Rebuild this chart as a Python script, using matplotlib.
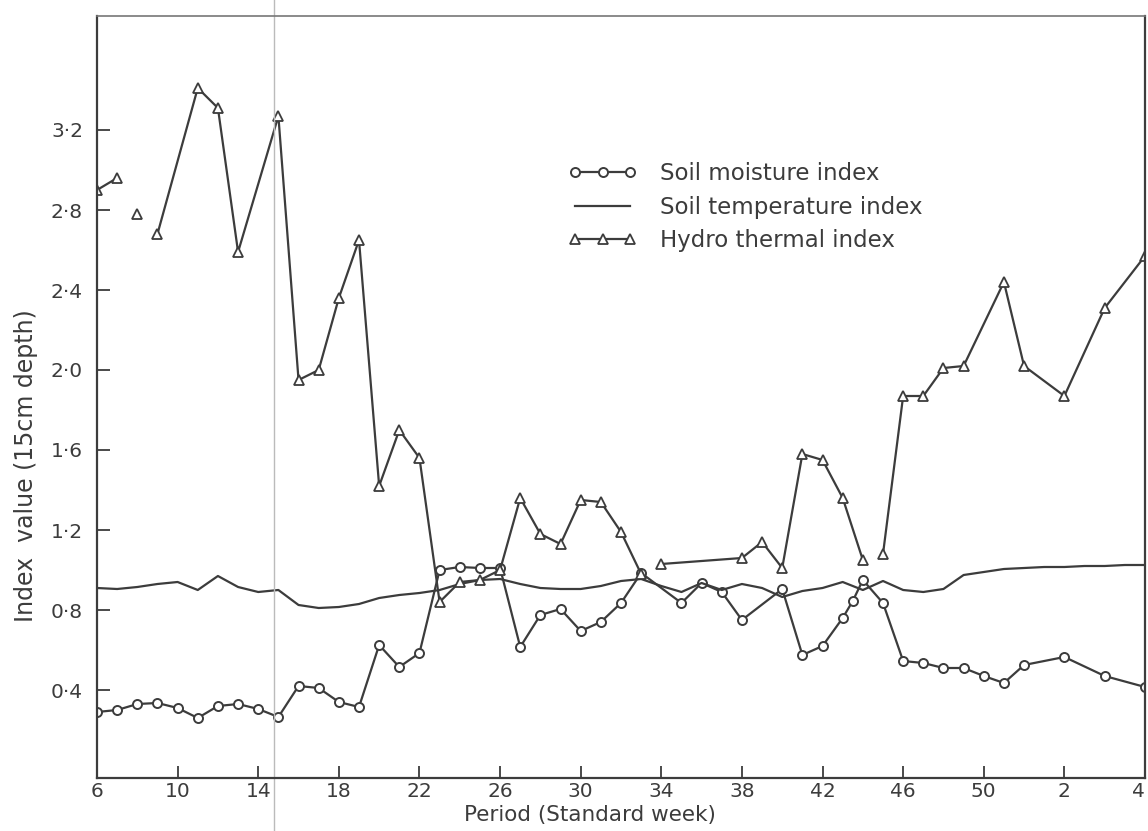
import numpy as np
import matplotlib
matplotlib.use("Agg")
import matplotlib.pyplot as plt

nan = np.nan

# standard weeks, continued past 52 (54 -> week 2, 58 -> week 4)
tick_weeks = [6, 10, 14, 18, 22, 26, 30, 34, 38, 42, 46, 50, 54, 58]
tick_labels = ['6', '10', '14', '18', '22', '26', '30', '34', '38', '42', '46', '50', '2', '4']
ytick_vals = [0.4, 0.8, 1.2, 1.6, 2.0, 2.4, 2.8, 3.2]
ytick_labels = ['0·4', '0·8', '1·2', '1·6', '2·0', '2·4', '2·8', '3·2']

# soil moisture index
moist_weeks = [6, 7, 8, 9, 10, 11, 12, 13, 14, 15, 16, 17, 18, 19, 20, 21, 22, 23, 24, 25, 26,
               27, 28, 29, 30, 31, 32, 33, 35, 36, 37, 38, 40, 41, 42, 43, 43.5, 44, 45, 46,
               47, 48, 49, 50, 51, 52, 54, 56, 58]
moist_vals = [0.29, 0.30, 0.33, 0.335, 0.31, 0.26, 0.32, 0.33, 0.305, 0.265, 0.42, 0.41, 0.34,
              0.315, 0.625, 0.515, 0.585, 1.00, 1.015, 1.01, 1.01, 0.615, 0.775, 0.805, 0.695,
              0.74, 0.835, 0.985, 0.835, 0.935, 0.89, 0.75, 0.905, 0.575, 0.62, 0.76, 0.845,
              0.95, 0.835, 0.545, 0.535, 0.51, 0.51, 0.47, 0.435, 0.525, 0.565, 0.47, 0.415]

# soil temperature index
temp_weeks = list(range(6, 59))
temp_vals = [0.91, 0.905, 0.915, 0.93, 0.94, 0.90, 0.97, 0.915, 0.89, 0.90, 0.825, 0.81, 0.815,
             0.83, 0.86, 0.875, 0.885, 0.90, 0.93, 0.95, 0.955, 0.93, 0.91, 0.905, 0.905, 0.92,
             0.945, 0.955, 0.92, 0.89, 0.935, 0.90, 0.93, 0.91, 0.865, 0.895, 0.91, 0.94, 0.90,
             0.945, 0.90, 0.89, 0.905, 0.975, 0.99, 1.005, 1.01, 1.015, 1.015, 1.02, 1.02,
             1.025, 1.025]

# hydro thermal index (nan = break in the line)
hydro_weeks = [6, 7, nan, 8, nan, 9, 11, 12, 13, 15, 16, 17, 18, 19, 20, 21, 22, 23, 24, 25, 26,
               27, 28, 29, 30, 31, 32, 33, nan, 34, 38, 39, 40, 41, 42, 43, 44, nan,
               45, 46, 47, 48, 49, 51, 52, 54, 56, 58]
hydro_vals = [2.90, 2.96, nan, 2.78, nan, 2.68, 3.41, 3.31, 2.59, 3.27, 1.95, 2.00, 2.36, 2.65,
              1.42, 1.70, 1.56, 0.84, 0.94, 0.95, 1.00, 1.36, 1.18, 1.13, 1.35, 1.34, 1.19, 0.98,
              nan, 1.03, 1.06, 1.14, 1.01, 1.58, 1.55, 1.36, 1.05, nan,
              1.08, 1.87, 1.87, 2.01, 2.02, 2.44, 2.02, 1.87, 2.31, 2.57]

ink = '#3c3c3c'

fig = plt.figure(figsize=(11.48, 8.31), dpi=100)
ax = fig.add_axes([97 / 1148, 53 / 831, 1048 / 1148, 762 / 831])

ax.plot(moist_weeks, moist_vals, color=ink, lw=1.6, marker='o', ms=6.5,
        mfc='white', mec=ink, mew=1.4, label='Soil moisture index')
ax.plot(temp_weeks, temp_vals, color=ink, lw=1.6, label='Soil temperature index')
ax.plot(hydro_weeks, hydro_vals, color=ink, lw=1.6, marker='^', ms=7.5,
        mfc='white', mec=ink, mew=1.3, label='Hydro thermal index')

# fold line in the scanned page
ax.axvline(14.8, ymin=-0.1, ymax=1.03, color='#bbbbbb', lw=1, clip_on=False)

ax.set_xlim(6, 58)
ax.set_ylim(-0.04, 3.77)
ax.set_xticks(tick_weeks)
ax.set_xticklabels(tick_labels)
ax.set_yticks(ytick_vals)
ax.set_yticklabels(ytick_labels)
ax.tick_params(axis='both', direction='in', length=9, width=1.3, colors=ink, labelsize=14.5)
ax.tick_params(axis='x', pad=3)
ax.tick_params(axis='y', pad=10)
ax.get_xticklabels()[-1].set_horizontalalignment('right')
for s in ax.spines.values():
    s.set_color(ink)
    s.set_linewidth(1.6)
ax.spines['top'].set_color('#777777')
ax.spines['top'].set_linewidth(1.2)

ax.set_xlabel('Period (Standard week)', fontsize=15.5, color=ink)
ax.xaxis.set_label_coords(0.47, -0.036)
ax.set_ylabel('Index  value (15cm depth)', fontsize=17, color=ink)
ax.yaxis.set_label_coords(-0.056, 0.41)

leg = ax.legend(loc='upper left', bbox_to_anchor=(0.43, 0.835), frameon=False,
                numpoints=3, handlelength=3.0, fontsize=16.5, labelspacing=0.45,
                handletextpad=1.0)
for t in leg.get_texts():
    t.set_color(ink)

fig.savefig('out.png', dpi=100)
